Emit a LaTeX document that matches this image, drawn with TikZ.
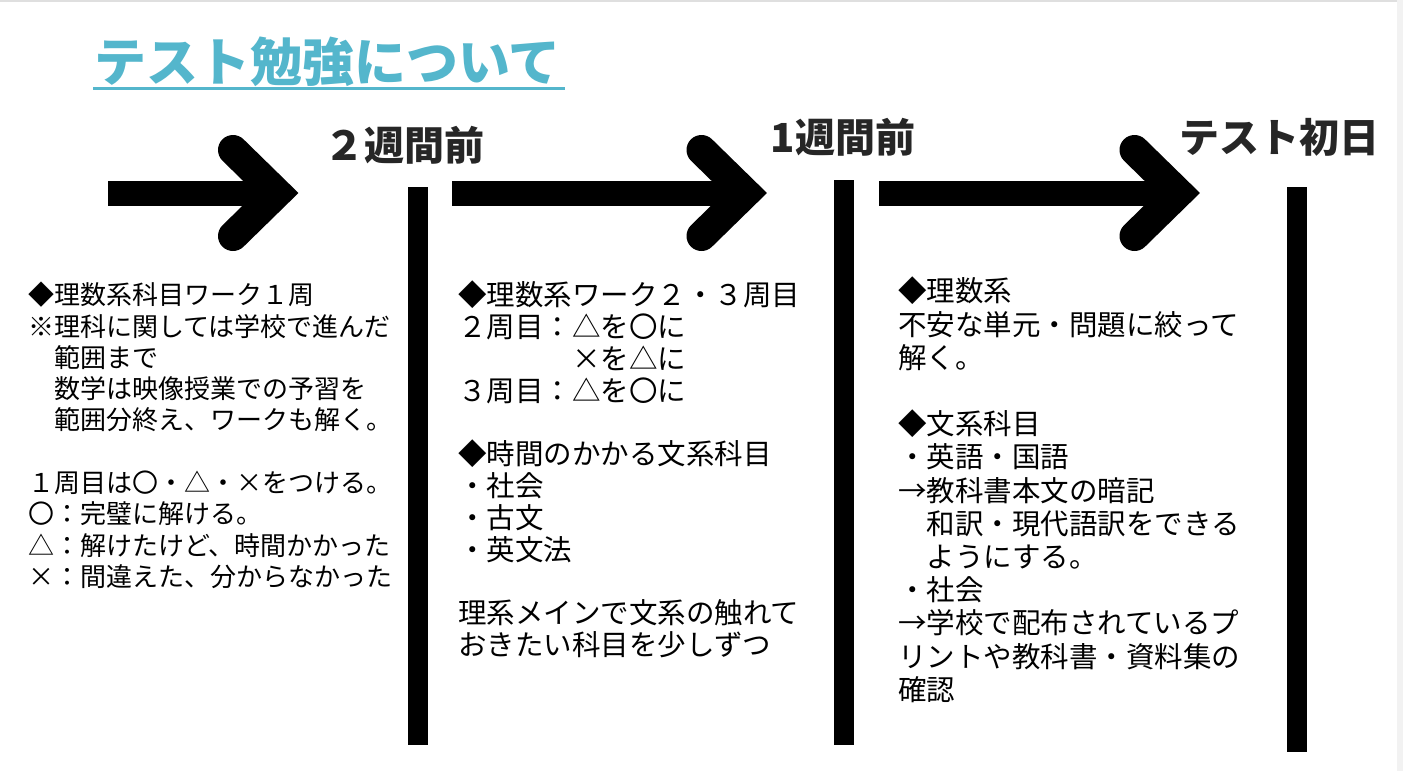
\documentclass[tikz,border=0pt]{standalone}
\usepackage{fontspec}
\setmainfont{Noto Sans CJK JP}
\usepackage{xcolor}
\usetikzlibrary{positioning, calc}
\definecolor{titleblue}{RGB}{84,182,204}
\definecolor{headgray}{RGB}{38,38,38}

\begin{document}
\begin{tikzpicture}[x=1pt, y=-1pt,
    heading/.style={inner sep=0, text=headgray, font=\fontsize{40}{44}\selectfont\bfseries},
    memo/.style={inner sep=0, anchor=north west, align=left},
    shaft/.style={line width=25pt},
    chevron/.style={line width=30pt, line cap=round, line join=miter},
    bar/.style={line width=20pt}]

    \useasboundingbox (0,0) rectangle (1403,771);
    \fill[white] (0,0) rectangle (1403,771);
    \fill[gray!25] (0,0) rectangle (1403,2);
    \fill[gray!10] (1397,0) rectangle (1403,771);

    \node[inner sep=0, anchor=base west, text=titleblue,
          font=\fontsize{52}{56}\selectfont\bfseries] (title) at (94,81) {テスト勉強について};
    \draw[titleblue, line width=3pt] ([xshift=-1pt,yshift=-7pt]title.base west) -- ([xshift=4pt,yshift=-7pt]title.base east);

    \node[heading] (twoweeks) at (404,145) {２週間前};
    \node[heading] (oneweek) at (843,137) {1週間前};
    \node[heading] (firstday) at (1279,137) {テスト初日};

    \foreach \s/\v in {108/277, 452/745.5, 879/1178.5} {
        \draw[shaft] (\s,193) -- (\v,193);
        \draw[chevron] (\v-44,150) -- (\v,193) -- (\v-44,236);
    }

    \draw[bar] (418,187) -- (418,745);
    \draw[bar] (844,180) -- (844,745);
    \draw[bar] (1297,187) -- (1297,752);

    \node[memo, font=\fontsize{26}{31.3}\selectfont] (before2) at (28,282) {
        ◆理数系科目ワーク１周\\
        ※理科に関しては学校で進んだ\\
        　範囲まで\\
        　数学は映像授業での予習を\\
        　範囲分終え、ワークも解く。\\
        \mbox{}\\
        １周目は〇・△・×をつける。\\
        〇：完璧に解ける。\\
        △：解けたけど、時間かかった\\
        ×：間違えた、分からなかった};

    \node[memo, font=\fontsize{28.5}{31.8}\selectfont] (before1) at (458,281) {
        ◆理数系ワーク２・３周目\\
        ２周目：△を〇に\\
        　　　　×を△に\\
        ３周目：△を〇に\\
        \mbox{}\\
        ◆時間のかかる文系科目\\
        ・社会\\
        ・古文\\
        ・英文法\\
        \mbox{}\\
        理系メインで文系の触れて\\
        おきたい科目を少しずつ};

    \node[memo, font=\fontsize{28.5}{33.2}\selectfont] (testday) at (898,277) {
        ◆理数系\\
        不安な単元・問題に絞って\\
        解く。\\
        \mbox{}\\
        ◆文系科目\\
        ・英語・国語\\
        →教科書本文の暗記\\
        　和訳・現代語訳をできる\\
        　ようにする。\\
        ・社会\\
        →学校で配布されているプ\\
        リントや教科書・資料集の\\
        確認};
\end{tikzpicture}
\end{document}
